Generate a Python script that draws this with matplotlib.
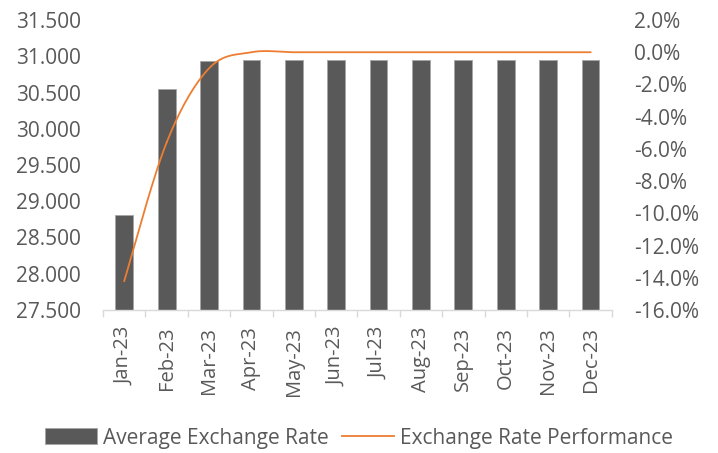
import numpy as np
import matplotlib.pyplot as plt
from matplotlib.ticker import FuncFormatter

months = ["Jan-23", "Feb-23", "Mar-23", "Apr-23", "May-23", "Jun-23",
          "Jul-23", "Aug-23", "Sep-23", "Oct-23", "Nov-23", "Dec-23"]
avg_rate = [28.81, 30.55, 30.93, 30.95, 30.95, 30.95,
            30.95, 30.95, 30.95, 30.95, 30.95, 30.95]
performance = [-14.2, -5.6, -1.0, 0.0, 0.0, 0.0,
               0.0, 0.0, 0.0, 0.0, 0.0, 0.0]

plt.rcParams['font.family'] = ['Open Sans', 'DejaVu Sans']
text_col = "#595959"
fs = 15


def smooth(xs, ys, n=30):
    # catmull-rom through the points, like a smoothed line
    xs = np.asarray(xs, float)
    ys = np.asarray(ys, float)
    px = np.concatenate([[xs[0]], xs, [xs[-1]]])
    py = np.concatenate([[ys[0]], ys, [ys[-1]]])
    ox, oy = [], []
    for i in range(1, len(px) - 2):
        t = np.linspace(0, 1, n)
        for p, out in ((px, ox), (py, oy)):
            p0, p1, p2, p3 = p[i - 1], p[i], p[i + 1], p[i + 2]
            out.extend(0.5 * (2 * p1 + (-p0 + p2) * t
                              + (2 * p0 - 5 * p1 + 4 * p2 - p3) * t ** 2
                              + (-p0 + 3 * p1 - 3 * p2 + p3) * t ** 3))
    return ox, oy


fig = plt.figure(figsize=(7.18, 4.53), dpi=100)
ax = fig.add_axes([0.1435, 0.3157, 0.7085, 0.6401])
x = np.arange(len(months))

bars = ax.bar(x, np.array(avg_rate) - 27.5, bottom=27.5, width=0.42,
              color="#595959", edgecolor="#a6a6a6", linewidth=0.6,
              label="Average Exchange Rate")
ax.set_xlim(-0.5, len(months) - 0.5)
ax.set_ylim(27.5, 31.5)
ax.set_yticks(np.arange(27.5, 31.51, 0.5))
ax.yaxis.set_major_formatter(FuncFormatter(lambda v, p: f"{v:.3f}"))
ax.set_xticks(x)
ax.set_xticklabels(months, rotation=90)
ax.set_xticks(np.arange(-0.5, len(months)), minor=True)
ax.tick_params(axis='x', which='major', length=0, pad=12, labelsize=fs - 0.5,
               labelcolor=text_col)
ax.tick_params(axis='x', which='minor', length=5, color="#d9d9d9", width=1)
ax.tick_params(axis='y', length=0, pad=16, labelsize=fs, labelcolor=text_col)
for s in ("top", "left", "right"):
    ax.spines[s].set_visible(False)
ax.spines["bottom"].set_color("#d9d9d9")
ax.spines["bottom"].set_linewidth(1)

ax2 = ax.twinx()
sx, sy = smooth(x, performance)
ln, = ax2.plot(sx, sy, color="#ed7d31", linewidth=1.3,
               label="Exchange Rate Performance")
ax2.set_ylim(-16, 2)
ax2.set_yticks(np.arange(-16, 2.1, 2))
ax2.yaxis.set_major_formatter(FuncFormatter(lambda v, p: f"{v:.1f}%"))
ax2.tick_params(axis='y', length=0, pad=16, labelsize=fs, labelcolor=text_col)
for s in ax2.spines.values():
    s.set_visible(False)

fig.legend([bars, ln], ["Average Exchange Rate", "Exchange Rate Performance"],
           loc="center", bbox_to_anchor=(0.5, 0.033), ncol=2, frameon=False,
           fontsize=fs, labelcolor=text_col, handlelength=2.5,
           handleheight=0.8, handletextpad=0.3, columnspacing=0.6)

fig.savefig("out.png", dpi=100)
